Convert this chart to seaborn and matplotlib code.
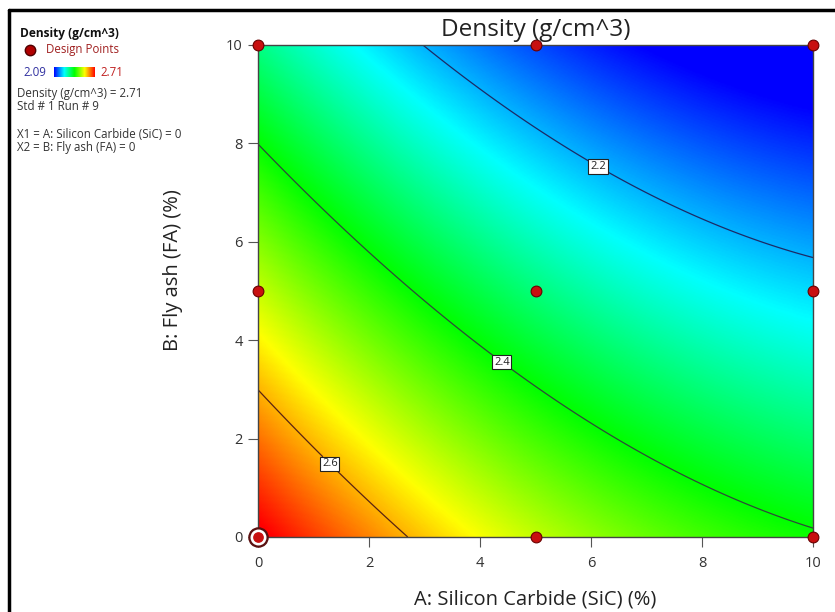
import numpy as np
import pandas as pd
import matplotlib
matplotlib.use("Agg")
import matplotlib.pyplot as plt
from matplotlib.colors import LinearSegmentedColormap
from matplotlib.lines import Line2D
import seaborn as sns

# ---- data ----
# contour readings: level, A (SiC %), B (FA %)
contour_level = [2.71, 2.6, 2.6, 2.6, 2.4, 2.4, 2.4, 2.4, 2.4, 2.2, 2.2, 2.2, 2.2]
contour_A = [0.0, 0.0, 2.88, 1.42, 0.0, 4.36, 5.0, 6.70, 10.0, 3.01, 4.72, 6.13, 10.0]
contour_B = [0.0, 3.09, 0.0, 1.63, 7.92, 3.50, 2.95, 1.69, 0.22, 10.0, 8.52, 7.54, 5.73]

design_A = [0, 0, 0, 5, 5, 5, 10, 10, 10]
design_B = [0, 5, 10, 0, 5, 10, 0, 5, 10]

levels = [2.2, 2.4, 2.6]
label_pos = [(1.42, 1.63), (4.36, 3.50), (6.13, 7.54)]
x_ticks = [0, 2, 4, 6, 8, 10]
y_ticks = [0, 2, 4, 6, 8, 10]
d_min, d_max = 2.09, 2.71

# ---- quadratic response surface fitted to the readings ----
cA = np.array(contour_A); cB = np.array(contour_B); cL = np.array(contour_level)
X = np.column_stack([np.ones_like(cA), cA, cB, cA * cB, cA**2, cB**2])
coef, *_ = np.linalg.lstsq(X, cL, rcond=None)

g = np.linspace(0, 10, 401)
GA, GB = np.meshgrid(g, g)
Z = (coef[0] + coef[1] * GA + coef[2] * GB + coef[3] * GA * GB
     + coef[4] * GA**2 + coef[5] * GB**2)

cmap = LinearSegmentedColormap.from_list(
    "de", ["#0000ff", "#00ffff", "#00ff00", "#ffff00", "#ff0000"])

sns.set_theme(style="white")
plt.rcParams["font.family"] = ["Open Sans", "DejaVu Sans"]

fig = plt.figure(figsize=(8.35, 6.12), dpi=100)
ax = fig.add_axes([258 / 835, 1 - 537 / 612, 555 / 835, 492 / 612])

ax.imshow(Z, origin="lower", extent=[0, 10, 0, 10], cmap=cmap,
          vmin=d_min, vmax=d_max, aspect="auto", interpolation="bilinear")
cs = ax.contour(GA, GB, Z, levels=levels,
                colors=["#1c2a66", "#2f4a3a", "#5a2412"], linewidths=0.9)
txts = ax.clabel(cs, levels=levels, inline=True, fontsize=8, fmt="%.1f",
                 manual=label_pos, inline_spacing=2)
for t in txts:
    t.set_bbox(dict(facecolor="white", edgecolor="#222222", pad=1.2, linewidth=0.8))
    t.set_color("#222222")
    t.set_rotation(0)

pts = pd.DataFrame({"A": design_A, "B": design_B})
sns.scatterplot(data=pts, x="A", y="B", ax=ax, s=60, color="#c81010",
                edgecolor="#6a0000", linewidth=0.8, clip_on=False, zorder=5,
                legend=False)
# current point marker at (0,0)
ax.scatter([design_A[0]], [design_B[0]], s=190, color="#5a1010", clip_on=False, zorder=6)
ax.scatter([design_A[0]], [design_B[0]], s=110, color="white", clip_on=False, zorder=7)
ax.scatter([design_A[0]], [design_B[0]], s=45, color="#c81010", clip_on=False, zorder=8)

ax.set_xlim(0, 10)
ax.set_ylim(0, 10)
ax.set_xticks(x_ticks)
ax.set_yticks(y_ticks)
ax.tick_params(axis="both", which="both", direction="out", length=7, width=0.8,
               color="#555555", labelsize=10.5, labelcolor="#333333",
               bottom=True, left=True)
ax.tick_params(axis="x", pad=7)
ax.tick_params(axis="y", pad=4)
for sp in ax.spines.values():
    sp.set_color("#444444")
    sp.set_linewidth(1.0)

ax.set_xlabel("A: Silicon Carbide (SiC) (%)", fontsize=14.5, color="#222222")
ax.set_ylabel("B: Fly ash (FA) (%)", fontsize=14.5, color="#222222")
ax.xaxis.label.set_va("center")
ax.yaxis.label.set_va("center")
ax.xaxis.set_label_coords(0.5, -(600 - 537) / 492)
ax.yaxis.set_label_coords(-(258 - 173) / 555, (537 - 270) / 492)
ax.set_title("")
fig.text((258 + 813) / 2 / 835, 1 - 30 / 612, "Density (g/cm^3)", fontsize=17.5,
         color="#222222", ha="center", va="center")

# frame lines of the figure
fig.add_artist(Line2D([9 / 835, 9 / 835], [0, 1 - 10 / 612], color="black",
                      linewidth=2.5, transform=fig.transFigure))
fig.add_artist(Line2D([9 / 835, 1], [1 - 10 / 612, 1 - 10 / 612], color="black",
                      linewidth=2.5, transform=fig.transFigure))

# side legend
def fx(px):
    return px / 835


def fy(py):
    return 1 - py / 612


fs = 8.3
fig.text(fx(20), fy(33), "Density (g/cm^3)", fontsize=8.6, fontweight="bold",
         color="#111111", va="center")
fig.add_artist(Line2D([fx(30)], [fy(50)], marker="o", markersize=7.5,
                      markerfacecolor="#b00000", markeredgecolor="#500000",
                      linestyle="none", transform=fig.transFigure))
fig.text(fx(46), fy(50), "Design Points", fontsize=fs, color="#a02020", va="center")
fig.text(fx(23), fy(72), "2.09", fontsize=fs, color="#3030a0", va="center")
cax = fig.add_axes([fx(54), fy(77), fx(95) - fx(54), fy(67) - fy(77)])
cax.imshow(np.linspace(0, 1, 256)[None, :], cmap=cmap, aspect="auto",
           extent=[0, 1, 0, 1])
cax.set_axis_off()
fig.text(fx(100), fy(72), "2.71", fontsize=fs, color="#c02020", va="center")
fig.text(fx(17), fy(94), "Density (g/cm^3) = 2.71", fontsize=fs, color="#333333", va="center")
fig.text(fx(17), fy(106), "Std # 1 Run # 9", fontsize=fs, color="#333333", va="center")
fig.text(fx(17), fy(135), "X1 = A: Silicon Carbide (SiC) = 0", fontsize=fs,
         color="#333333", va="center")
fig.text(fx(17), fy(147), "X2 = B: Fly ash (FA) = 0", fontsize=fs,
         color="#333333", va="center")

fig.savefig("out.png", dpi=100)
